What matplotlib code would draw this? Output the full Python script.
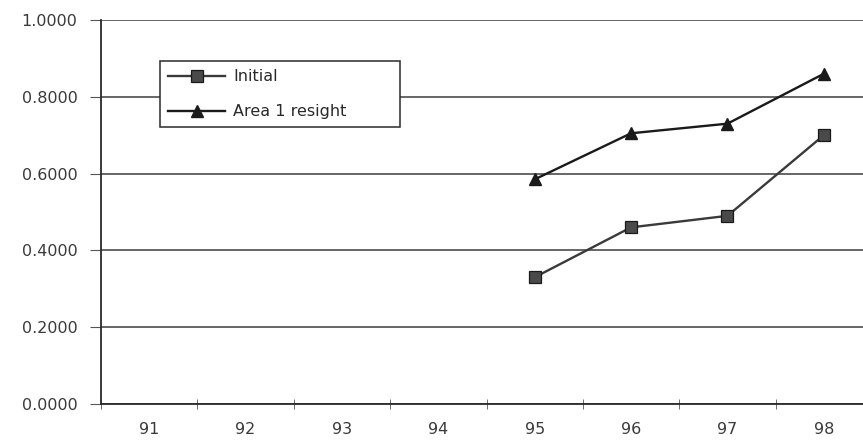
import matplotlib.pyplot as plt
import numpy as np

years = ['91', '92', '93', '94', '95', '96', '97', '98']
data_years = ['95', '96', '97', '98']
initial = [0.33, 0.46, 0.49, 0.70]
area1_resight = [0.585, 0.705, 0.73, 0.86]

plt.rcParams['font.family'] = ['DejaVu Sans']

fig = plt.figure(figsize=(8.63, 4.43), dpi=100)
# axes run a little past the right edge, like the scanned original
ax = fig.add_axes([101 / 863, 1 - 404 / 443, 771 / 863, (404 - 20) / 443])

xpos = [years.index(y) for y in data_years]
ax.plot(xpos, initial, color='#3a3a3a', lw=1.7, marker='s', ms=8,
        mfc='#4a4a4a', mec='#1a1a1a', mew=0.9, label='Initial')
ax.plot(xpos, area1_resight, color='#1a1a1a', lw=1.7, marker='^', ms=9,
        mfc='#1a1a1a', mec='#1a1a1a', label='Area 1 resight')

ax.set_xlim(-0.5, len(years) - 0.5)
ax.set_ylim(0, 1.0)
yt = np.arange(0, 1.01, 0.2)
ax.set_yticks(yt)
ax.set_yticklabels(['%.4f' % v for v in yt])
ax.set_xticks(range(len(years)))
ax.set_xticklabels(years)
ax.set_xticks(np.arange(-0.5, len(years), 1.0), minor=True)
ax.tick_params(axis='x', which='major', length=0, pad=13, labelsize=11.5, labelcolor='#3a3a3a')
ax.tick_params(axis='x', which='minor', direction='inout', length=7, color='#555555')
ax.tick_params(axis='y', direction='out', length=8, pad=9, labelsize=11.5,
               labelcolor='#3a3a3a', color='#555555')

ax.grid(axis='y', color='#5a5a5a', lw=1.3)
ax.set_axisbelow(True)
for s in ['top', 'right']:
    ax.spines[s].set_visible(False)
for s in ['left', 'bottom']:
    ax.spines[s].set_color('#2a2a2a')
    ax.spines[s].set_linewidth(1.3)

# legend box stretched to the width of the original
leg = ax.legend(loc='upper left', bbox_to_anchor=(0.0765, 0.72, 0.311, 0.172),
                mode='expand', fontsize=11.5,
                frameon=True, fancybox=False, edgecolor='#2a2a2a', framealpha=1,
                handlelength=3.6, handletextpad=0.5, borderpad=0.5,
                labelspacing=1.25, borderaxespad=0)
leg.get_frame().set_linewidth(1.1)
for t in leg.get_texts():
    t.set_color('#2a2a2a')

fig.savefig('out.png', dpi=100)
